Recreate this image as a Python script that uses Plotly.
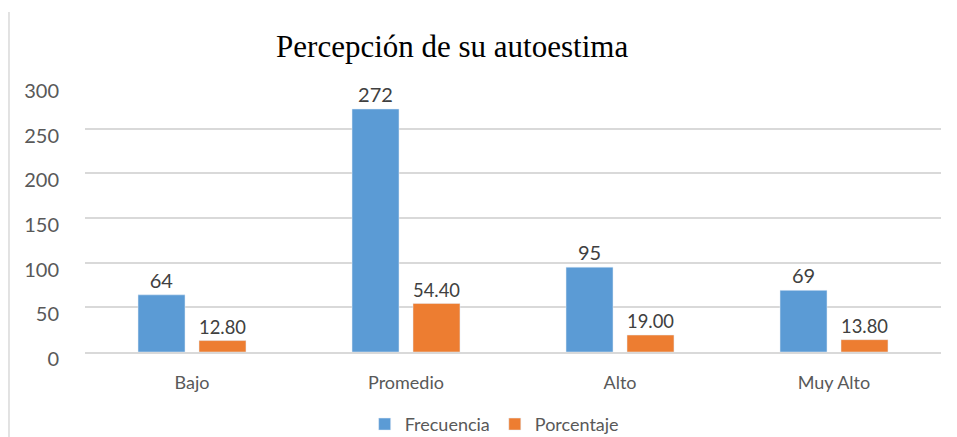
'''
    Bar chart: Percepción de su autoestima (frecuencia y porcentaje).
'''
import plotly.graph_objects as go

CATEGORIES = ['Bajo', 'Promedio', 'Alto', 'Muy Alto']
FRECUENCIA = [64, 272, 95, 69]
PORCENTAJE = [12.80, 54.40, 19.00, 13.80]
Y_TICKS = [0, 50, 100, 150, 200, 250, 300]

BLUE = '#5b9bd5'
ORANGE = '#ed7d31'
TEXT = '#595959'
FONT = 'Lato, Noto Sans, sans-serif'


def get_figure():
    fig = go.Figure()
    fig.add_trace(go.Bar(
        x=CATEGORIES,
        y=FRECUENCIA,
        name='Frecuencia',
        marker_color=BLUE,
        texttemplate='%{y}',
        textposition='outside',
        cliponaxis=False,
        textfont=dict(size=20, color='#404040', family=FONT),
    ))
    fig.add_trace(go.Bar(
        x=CATEGORIES,
        y=PORCENTAJE,
        name='Porcentaje',
        marker_color=ORANGE,
        texttemplate='%{y:.2f}',
        textposition='outside',
        cliponaxis=False,
        textfont=dict(size=20, color='#404040', family=FONT),
    ))

    # the page has an 8px body margin, so the figure is 8px smaller
    fig.update_layout(
        width=949,
        height=429,
        margin=dict(l=77, r=16, t=76, b=85, autoexpand=False),
        paper_bgcolor='white',
        plot_bgcolor='white',
        barmode='group',
        bargap=0.43,
        bargroupgap=0.23,
        font=dict(family=FONT, color=TEXT, size=18),
        title=dict(
            text='Percepción de su autoestima',
            font=dict(family='Liberation Serif, serif', size=31, color='black'),
            x=0.468,
            xanchor='center',
            y=0.912,
            yanchor='middle',
        ),
        legend=dict(
            orientation='h',
            x=0.478,
            xanchor='center',
            y=-0.27,
            yanchor='middle',
            font=dict(size=18, color=TEXT),
            itemwidth=30,
        ),
        showlegend=True,
        shapes=[dict(
            type='line', xref='paper', yref='paper',
            x0=-0.0888, x1=-0.0888, y0=1.2687, y1=-0.34,
            line=dict(color='#d9d9d9', width=1.5),
        )],
    )

    fig.update_yaxes(
        range=[0, 300],
        tickvals=Y_TICKS,
        showgrid=True,
        gridcolor='#d9d9d9',
        gridwidth=1.5,
        zeroline=False,
        showline=False,
        ticks='',
        ticklabelstandoff=25,
        ticklabelshift=7,
        tickfont=dict(size=20, color=TEXT),
    )
    fig.update_xaxes(
        showline=True,
        linecolor='#d9d9d9',
        linewidth=1.5,
        ticks='',
        ticklabelstandoff=14,
        tickfont=dict(size=18, color=TEXT),
    )
    return fig


fig = get_figure()
fig.write_html('out.html')
